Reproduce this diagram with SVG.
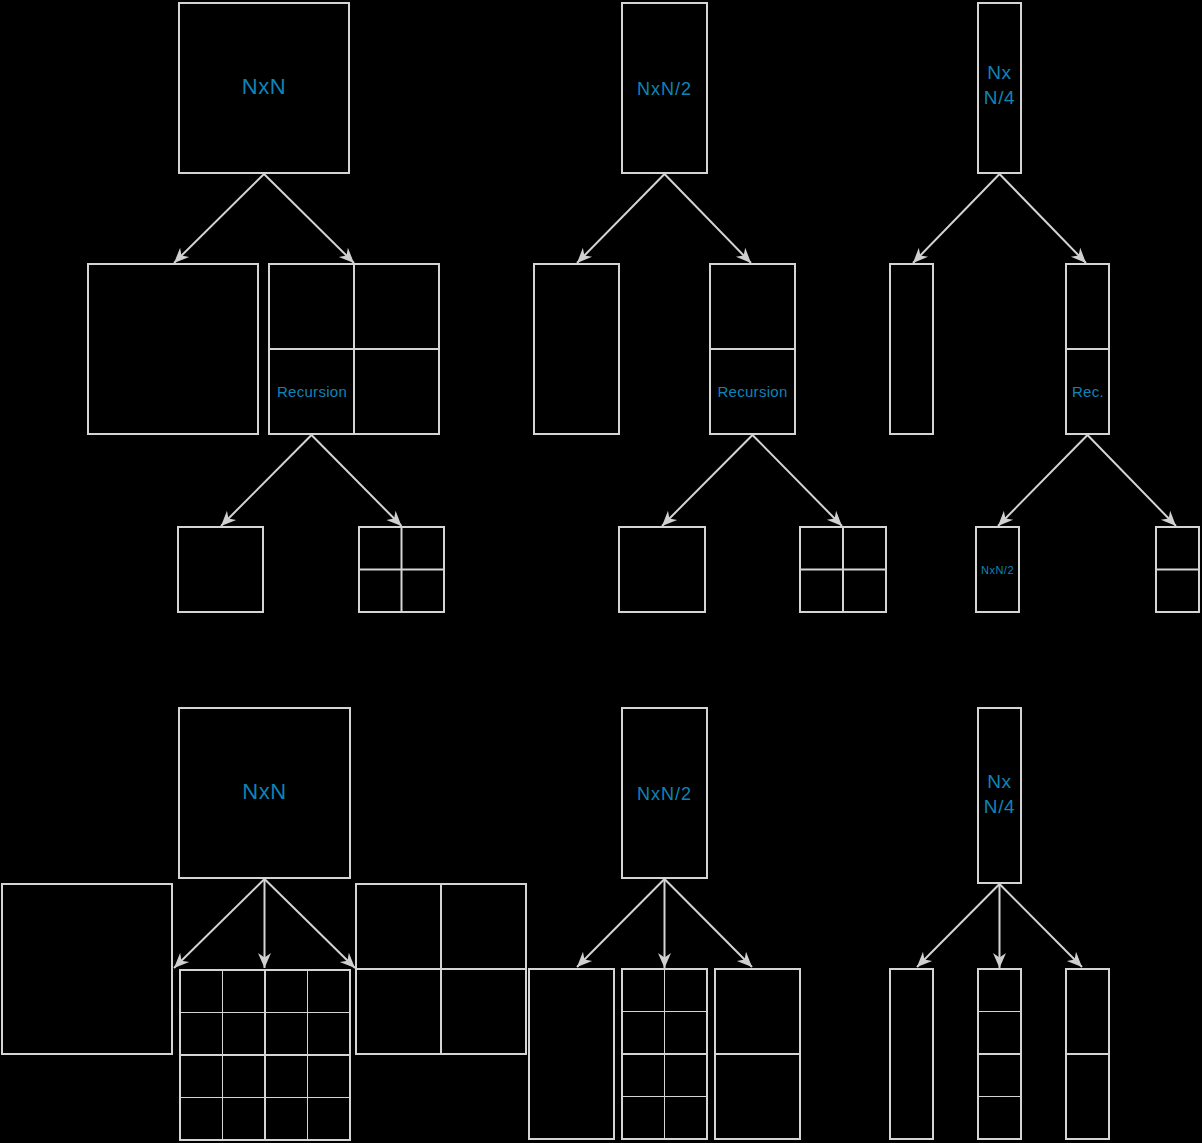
<svg xmlns="http://www.w3.org/2000/svg" width="1202" height="1143" viewBox="0 0 1202 1143">
<defs>
<marker id="arr" markerUnits="userSpaceOnUse" markerWidth="16" markerHeight="16" viewBox="0 0 16 16" refX="15" refY="8" orient="auto">
<path d="M0,1.5 L15,8 L0,14.5 L4.5,8 Z" fill="#d0d0d0"/>
</marker>
</defs>
<style>
.b{fill:none;stroke:#d4d4d4;stroke-width:2}
.t{fill:none;stroke:#d4d4d4;stroke-width:1}
.c{fill:none;stroke:#d4d4d4;stroke-width:2;marker-end:url(#arr)}
.l{fill:#0e84b8;font-family:"Liberation Sans",Arial,sans-serif;text-anchor:middle;dominant-baseline:central}
</style>
<rect x="0" y="0" width="1202" height="1143" fill="#000"/>

<!-- Top left tree -->
<g id="tl-root"><rect class="b" x="179" y="3" width="170" height="170"/><text class="l" x="264" y="86" font-size="22" letter-spacing="0.6">NxN</text></g>
<g id="tl-left"><rect class="b" x="88" y="264" width="170" height="170"/></g>
<g id="tl-right"><rect class="b" x="269" y="264" width="170" height="170"/><path class="b" d="M354,264V434M269,349H439"/><text class="l" x="312" y="391" font-size="15" letter-spacing="0.3">Recursion</text></g>
<g id="tl-ll"><rect class="b" x="178" y="527" width="85" height="85"/></g>
<g id="tl-lr"><rect class="b" x="359" y="527" width="85" height="85"/><path class="b" d="M401.5,527V612M359,569.5H444"/></g>

<!-- Top middle tree -->
<g id="tm-root"><rect class="b" x="622" y="3" width="85" height="170"/><text class="l" x="664.5" y="89" font-size="18" letter-spacing="1">NxN/2</text></g>
<g id="tm-left"><rect class="b" x="534" y="264" width="85" height="170"/></g>
<g id="tm-right"><rect class="b" x="710" y="264" width="85" height="170"/><path class="b" d="M710,349H795"/><text class="l" x="752.5" y="391" font-size="15" letter-spacing="0.3">Recursion</text></g>
<g id="tm-ll"><rect class="b" x="619" y="527" width="86" height="85"/></g>
<g id="tm-lr"><rect class="b" x="800" y="527" width="86" height="85"/><path class="b" d="M843,527V612M800,569.5H886"/></g>

<!-- Top right tree -->
<g id="tr-root"><rect class="b" x="978" y="3" width="43" height="170"/><text class="l" x="999.5" y="72" font-size="19" letter-spacing="0.6">Nx</text><text class="l" x="999.5" y="97" font-size="19" letter-spacing="0.6">N/4</text></g>
<g id="tr-left"><rect class="b" x="890" y="264" width="43" height="170"/></g>
<g id="tr-right"><rect class="b" x="1066" y="264" width="43" height="170"/><path class="b" d="M1066,349H1109"/><text class="l" x="1088" y="391" font-size="15" letter-spacing="0.3">Rec.</text></g>
<g id="tr-ll"><rect class="b" x="976" y="527" width="43" height="85"/><text class="l" x="997.5" y="570" font-size="11" letter-spacing="0.5">NxN/2</text></g>
<g id="tr-lr"><rect class="b" x="1156" y="527" width="43" height="85"/><path class="b" d="M1156,569.5H1199"/></g>

<!-- Bottom left tree -->
<g id="bl-root"><rect class="b" x="179" y="708" width="171" height="170"/><text class="l" x="264.5" y="791" font-size="22" letter-spacing="0.6">NxN</text></g>
<g id="bl-left"><rect class="b" x="2" y="884" width="170" height="170"/></g>
<g id="bl-mid"><rect class="b" x="180" y="970" width="170" height="170"/><path class="t" d="M222.5,970V1140M307.5,970V1140M180,1012.5H350M180,1097.5H350"/><path class="b" d="M265,970V1140M180,1055H350"/></g>
<g id="bl-right"><rect class="b" x="356" y="884" width="170" height="170"/><path class="b" d="M441,884V1054M356,969H526"/></g>

<!-- Bottom middle tree -->
<g id="bm-root"><rect class="b" x="622" y="708" width="85" height="170"/><text class="l" x="664.5" y="794" font-size="18" letter-spacing="1">NxN/2</text></g>
<g id="bm-left"><rect class="b" x="529" y="969" width="85" height="170"/></g>
<g id="bm-mid"><rect class="b" x="622" y="969" width="85" height="170"/><path class="t" d="M664.5,969V1139M622,1011.5H707M622,1096.5H707"/><path class="b" d="M622,1054H707"/></g>
<g id="bm-right"><rect class="b" x="715" y="969" width="85" height="170"/><path class="b" d="M715,1054H800"/></g>

<!-- Bottom right tree -->
<g id="br-root"><rect class="b" x="978" y="708" width="43" height="175"/><text class="l" x="999.5" y="781" font-size="19" letter-spacing="0.6">Nx</text><text class="l" x="999.5" y="806" font-size="19" letter-spacing="0.6">N/4</text></g>
<g id="br-left"><rect class="b" x="890" y="969" width="43" height="170"/></g>
<g id="br-mid"><rect class="b" x="978" y="969" width="43" height="170"/><path class="t" d="M978,1011.5H1021M978,1096.5H1021"/><path class="b" d="M978,1054H1021"/></g>
<g id="br-right"><rect class="b" x="1066" y="969" width="43" height="170"/><path class="b" d="M1066,1054H1109"/></g>

<g id="connectors">
<line class="c" x1="264" y1="174" x2="174" y2="263"/>
<line class="c" x1="264" y1="174" x2="354" y2="263"/>
<line class="c" x1="311.5" y1="435" x2="221" y2="526"/>
<line class="c" x1="311.5" y1="435" x2="401.5" y2="526"/>
<line class="c" x1="664.5" y1="174" x2="577" y2="263"/>
<line class="c" x1="664.5" y1="174" x2="751" y2="263"/>
<line class="c" x1="752.5" y1="435" x2="662" y2="526"/>
<line class="c" x1="752.5" y1="435" x2="842" y2="526"/>
<line class="c" x1="999.5" y1="174" x2="913" y2="263"/>
<line class="c" x1="999.5" y1="174" x2="1086" y2="263"/>
<line class="c" x1="1087.5" y1="435" x2="998" y2="526"/>
<line class="c" x1="1087.5" y1="435" x2="1176" y2="526"/>
<line class="c" x1="264.5" y1="879" x2="174" y2="968"/>
<line class="c" x1="264.5" y1="879" x2="264.5" y2="968"/>
<line class="c" x1="264.5" y1="879" x2="355" y2="968"/>
<line class="c" x1="664.5" y1="879" x2="577" y2="967"/>
<line class="c" x1="664.5" y1="879" x2="664.5" y2="968"/>
<line class="c" x1="664.5" y1="879" x2="752" y2="967"/>
<line class="c" x1="999.5" y1="884" x2="917" y2="967"/>
<line class="c" x1="999.5" y1="884" x2="999.5" y2="968"/>
<line class="c" x1="999.5" y1="884" x2="1082" y2="967"/>
</g>
</svg>
